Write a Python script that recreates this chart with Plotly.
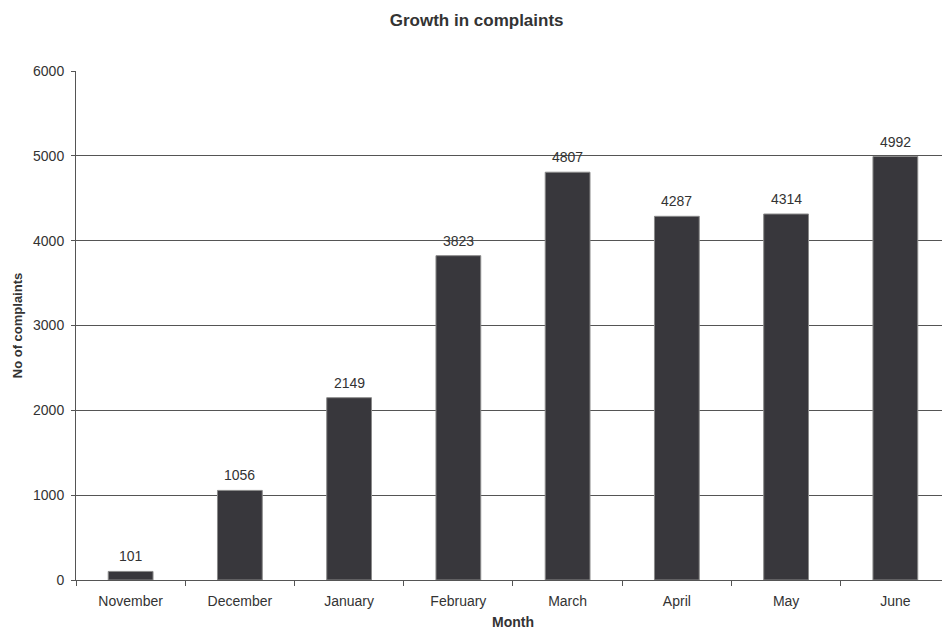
import plotly.graph_objects as go

months = ["November", "December", "January", "February", "March", "April", "May", "June"]
complaints = [101, 1056, 2149, 3823, 4807, 4287, 4314, 4992]

font = "Liberation Sans, Arial, sans-serif"
txt = "#333333"

fig = go.Figure(go.Bar(
    x=months, y=complaints,
    marker=dict(color="#38373c", line=dict(color="#8a8a8a", width=1)),
    hoverinfo="x+y",
))

for m, v in zip(months, complaints):
    fig.add_annotation(x=m, y=v, text=str(v), showarrow=False,
                       yanchor="bottom", yshift=5,
                       font=dict(family=font, size=14, color=txt))

plot_h = 631 - 71 - 51

# x-axis title, centred on the full category span
fig.add_annotation(x=0.5046, xref="paper", y=-(622 - 580) / plot_h, yref="paper",
                   text="<b>Month</b>", showarrow=False, yanchor="middle", borderpad=0,
                   font=dict(family=font, size=14, color=txt))

fig.update_layout(
    width=942, height=631,
    margin=dict(l=76, r=0, t=71, b=51, autoexpand=False),
    paper_bgcolor="white", plot_bgcolor="white",
    bargap=0.59,
    showlegend=False,
    title=dict(text="<b>Growth in complaints</b>", x=0.506, xanchor="center", y=0.969, yanchor="middle",
               font=dict(family=font, size=17, color=txt)),
    font=dict(family=font, size=14, color=txt),
)

fig.update_xaxes(
    type="category",
    range=[-0.5, 7.427],
    tickson="boundaries",
    ticks="outside", ticklen=5, tickcolor="#555555",
    showline=True, linecolor="#555555", linewidth=1,
    showgrid=False,
    automargin=False,
    ticklabelstandoff=8,
    tickfont=dict(family=font, size=14, color=txt),
)

fig.update_yaxes(
    range=[0, 6000], dtick=1000,
    ticks="outside", ticklen=4, tickcolor="#555555",
    showline=True, linecolor="#555555", linewidth=1,
    showgrid=True, gridcolor="#555555", gridwidth=1,
    zeroline=False,
    automargin=False,
    ticklabelstandoff=4,
    tickfont=dict(family=font, size=14, color=txt),
    title=dict(text="<b>No of complaints</b>", font=dict(family=font, size=13, color=txt), standoff=7),
)

fig.write_html("out.html")
